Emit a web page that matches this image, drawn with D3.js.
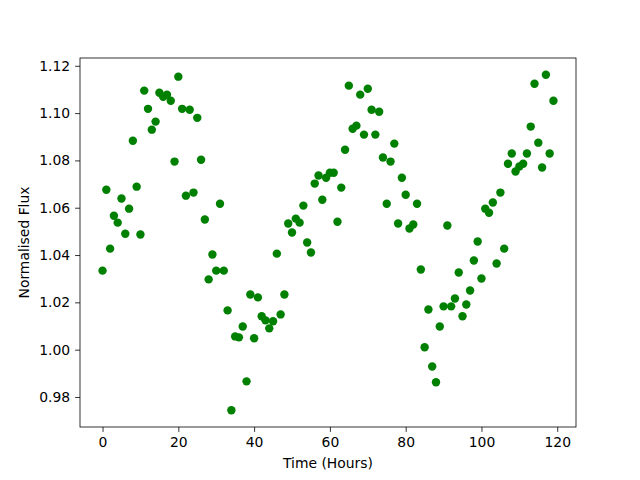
<!DOCTYPE html>
<html>
<head>
<meta charset="utf-8">
<title>Normalised Flux</title>
<script src="https://d3js.org/d3.v7.min.js"></script>
<style>
  body { margin: 0; background: #fff; }
  text { font-family: "DejaVu Sans", sans-serif; fill: #000; }
</style>
</head>
<body>
<div id="chart"></div>
<script>
// time in hours, one reading per hour
const hours = d3.range(0, 120);

const flux = [
  1.0334, 1.0676, 1.0427, 1.0566, 1.0537, 1.0639, 1.0490, 1.0596, 1.0883, 1.0689,
  1.0487, 1.1095, 1.1018, 1.0930, 1.0964, 1.1086, 1.1069, 1.1078, 1.1052, 1.0795,
  1.1154, 1.1018, 1.0651, 1.1014, 1.0664, 1.0980, 1.0803, 1.0550, 1.0297, 1.0402,
  1.0334, 1.0617, 1.0334, 1.0166, 0.9744, 1.0056, 1.0052, 1.0098, 0.9866, 1.0233,
  1.0048, 1.0221, 1.0141, 1.0124, 1.0090, 1.0120, 1.0406, 1.0149, 1.0233, 1.0533,
  1.0495, 1.0554, 1.0537, 1.0609, 1.0453, 1.0411, 1.0702, 1.0736, 1.0634, 1.0727,
  1.0748, 1.0748, 1.0541, 1.0685, 1.0845, 1.1116, 1.0934, 1.0947, 1.1078, 1.0909,
  1.1103, 1.1014, 1.0909, 1.1006, 1.0812, 1.0617, 1.0795, 1.0871, 1.0533, 1.0727,
  1.0655, 1.0512, 1.0529, 1.0617, 1.0339, 1.0010, 1.0170, 0.9929, 0.9862, 1.0098,
  1.0183, 1.0525, 1.0183, 1.0216, 1.0326, 1.0141, 1.0191, 1.0250, 1.0377, 1.0457,
  1.0301, 1.0596, 1.0579, 1.0622, 1.0364, 1.0664, 1.0427, 1.0786, 1.0829, 1.0753,
  1.0774, 1.0786, 1.0829, 1.0943, 1.1124, 1.0875, 1.0770, 1.1162, 1.0829, 1.1052
];

const xTicks = [0, 20, 40, 60, 80, 100, 120];
const yTicks = [0.98, 1.00, 1.02, 1.04, 1.06, 1.08, 1.10, 1.12];

const W = 640, H = 480;
const margin = {top: 58, right: 64, bottom: 53, left: 80};
const w = W - margin.left - margin.right;
const h = H - margin.top - margin.bottom;

const svg = d3.select("#chart").append("svg")
    .attr("width", W)
    .attr("height", H);

const g = svg.append("g")
    .attr("transform", "translate(" + margin.left + "," + margin.top + ")");

// matplotlib style 5% padding around the data
const xMin = d3.min(hours), xMax = d3.max(hours);
const xPad = (xMax - xMin) * 0.05;
const yMin = d3.min(flux), yMax = d3.max(flux);
const yPad = (yMax - yMin) * 0.05;

const x = d3.scaleLinear().domain([xMin - xPad, xMax + xPad]).range([0, w]);
const y = d3.scaleLinear().domain([yMin - yPad, yMax + yPad]).range([h, 0]);

const xAxis = d3.axisBottom(x).tickValues(xTicks).tickSizeOuter(0).tickSize(4.9).tickPadding(4.9)
    .tickFormat(d3.format("d"));
const yAxis = d3.axisLeft(y).tickValues(yTicks).tickSizeOuter(0).tickSize(4.9).tickPadding(4.9)
    .tickFormat(d3.format(".2f"));

const gx = g.append("g").attr("transform", "translate(0," + h + ")").call(xAxis);
const gy = g.append("g").call(yAxis);
[gx, gy].forEach(a => {
  a.select(".domain").remove();
  a.selectAll("line").attr("stroke", "#000").attr("stroke-width", 0.8);
  a.selectAll("text").attr("font-size", "13.9px").attr("font-family", "DejaVu Sans");
});

// points
g.append("g").selectAll("circle")
    .data(hours.map((t, i) => [t, flux[i]]))
    .enter()
    .append("circle")
    .attr("cx", d => x(d[0]))
    .attr("cy", d => y(d[1]))
    .attr("r", 4.2)
    .attr("fill", "#008000");

// frame
g.append("rect")
    .attr("width", w)
    .attr("height", h)
    .attr("fill", "none")
    .attr("stroke", "#000")
    .attr("stroke-width", 0.8);

g.append("text")
    .attr("x", w / 2)
    .attr("y", h + 41)
    .attr("text-anchor", "middle")
    .attr("font-size", "13.9px")
    .text("Time (Hours)");

g.append("text")
    .attr("transform", "rotate(-90)")
    .attr("x", -h / 2)
    .attr("y", -51)
    .attr("text-anchor", "middle")
    .attr("font-size", "13.9px")
    .text("Normalised Flux");
</script>
</body>
</html>
